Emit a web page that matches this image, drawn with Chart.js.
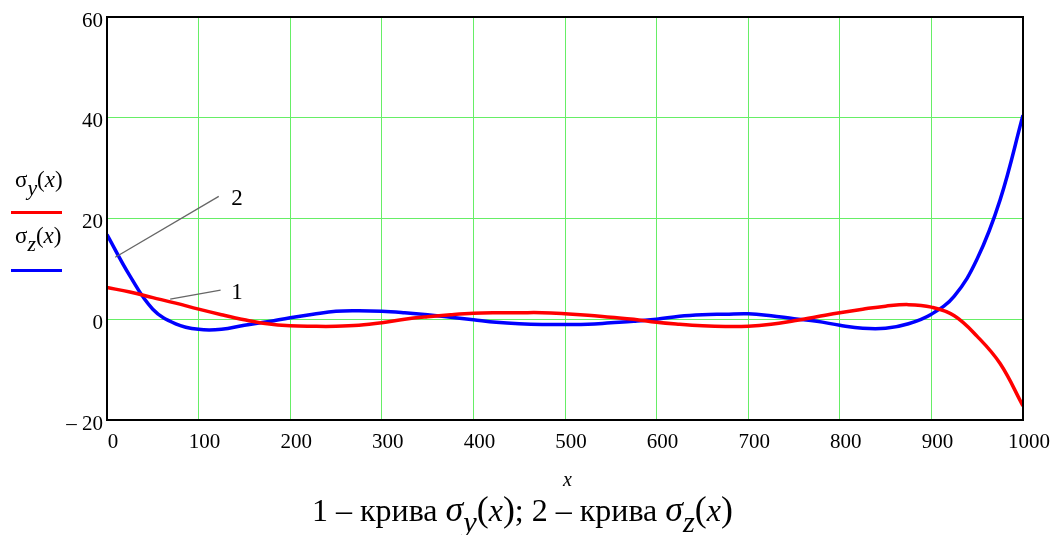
<!DOCTYPE html>
<html>
<head>
<meta charset="utf-8">
<script src="https://cdn.jsdelivr.net/npm/chart.js@4/dist/chart.umd.min.js"></script>
<style>
    html, body { margin: 0; padding: 0; background: #fff; }
    #wrap { position: relative; width: 1055px; height: 535px; font-family: "Liberation Serif", "DejaVu Serif", serif; color: #000; }
    #sigmaChart { position: absolute; left: 0; top: 0; }
    .lbl { position: absolute; white-space: nowrap; }
    .it { font-style: italic; }
    .sub { font-style: italic; position: relative; top: 0.35em; font-size: 0.95em; }
    .key { position: absolute; height: 3px; }
    .big { font-size: 1.12em; }
</style>
</head>
<body>
<div id="wrap">
    <canvas id="sigmaChart" width="1055" height="535"></canvas>
    <div class="lbl" style="left:15px; top:167px; font-size:23px;">σ<span class="sub">y</span>(<span class="it">x</span>)</div>
    <div class="key" style="left:11px; top:211px; width:51px; background:#ff0000;"></div>
    <div class="lbl" style="left:15px; top:223px; font-size:23px;">σ<span class="sub">z</span>(<span class="it">x</span>)</div>
    <div class="key" style="left:11px; top:269px; width:51px; background:#0000ff;"></div>
    <div class="lbl it" style="left:563px; top:468px; font-size:20px;">x</div>
    <div class="lbl" style="left:312px; top:488px; font-size:32px;">1 – крива <span class="it big">σ</span><span class="sub">y</span><span class="big">(</span><span class="it">x</span><span class="big">)</span>; 2 – крива <span class="it big">σ</span><span class="sub">z</span><span class="big">(</span><span class="it">x</span><span class="big">)</span></div>
</div>
<script>
// x positions along the beam
const xValues = [0, 25, 50, 75, 100, 125, 150, 175, 200, 225, 250, 275, 300, 325, 350, 375, 400, 425, 450, 475,
    500, 525, 550, 575, 600, 625, 650, 675, 700, 725, 750, 775, 800, 825, 850, 875, 900, 925, 950, 975, 1000];

// curve 1: sigma_y(x)
const sigmaY = [6.3, 5.4, 4.3, 3.2, 2.0, 0.9, -0.1, -0.9, -1.3, -1.4, -1.4, -1.2, -0.7, 0.0, 0.5, 0.9, 1.2, 1.3, 1.3, 1.3,
    1.1, 0.8, 0.4, 0.0, -0.6, -1.0, -1.3, -1.45, -1.4, -1.0, -0.3, 0.5, 1.3, 2.0, 2.6, 2.9, 2.4, 0.7, -3.4, -8.8, -17.2];

// curve 2: sigma_z(x)
const sigmaZ = [16.8, 8.6, 2.0, -0.9, -2.0, -2.0, -1.2, -0.5, 0.3, 1.0, 1.6, 1.7, 1.6, 1.3, 0.9, 0.4, -0.1, -0.6, -0.9, -1.05,
    -1.05, -1.0, -0.7, -0.4, 0.0, 0.6, 0.9, 1.0, 1.1, 0.7, 0.1, -0.4, -1.2, -1.8, -1.8, -0.9, 1.0, 4.6, 12.0, 23.7, 40.5];

const xTicks = [0, 100, 200, 300, 400, 500, 600, 700, 800, 900, 1000];
const yTicks = [-20, 0, 20, 40, 60];

// leader lines with curve numbers
const leaders = [
    { label: '2', from: [9, 12.3], to: [122, 24.4], at: [142, 23.8] },
    { label: '1', from: [69, 4.0], to: [124, 5.8], at: [142, 5.3] }
];

const toPoints = ys => xValues.map((x, i) => ({ x: x, y: ys[i] }));

const framePlugin = {
    id: 'frame',
    afterDatasetsDraw(chart) {
        const c = chart.ctx;
        const a = chart.chartArea;
        const sx = chart.scales.x, sy = chart.scales.y;
        c.save();
        c.strokeStyle = '#000';
        c.lineWidth = 2;
        c.strokeRect(a.left, a.top, a.right - a.left, a.bottom - a.top);
        leaders.forEach(l => {
            c.strokeStyle = '#666';
            c.lineWidth = 1.3;
            c.beginPath();
            c.moveTo(sx.getPixelForValue(l.from[0]), sy.getPixelForValue(l.from[1]));
            c.lineTo(sx.getPixelForValue(l.to[0]), sy.getPixelForValue(l.to[1]));
            c.stroke();
            c.fillStyle = '#000';
            c.font = '23px "Liberation Serif", serif';
            c.textAlign = 'center';
            c.textBaseline = 'middle';
            c.fillText(l.label, sx.getPixelForValue(l.at[0]), sy.getPixelForValue(l.at[1]));
        });
        c.restore();
    }
};

const tickFont = { family: '"Liberation Serif", serif', size: 21 };

new Chart(document.getElementById('sigmaChart').getContext('2d'), {
    type: 'line',
    data: {
        datasets: [
            {
                label: 'σy(x)',
                data: toPoints(sigmaY),
                borderColor: '#ff0000',
                borderWidth: 3.5,
                pointRadius: 0,
                tension: 0.4
            },
            {
                label: 'σz(x)',
                data: toPoints(sigmaZ),
                borderColor: '#0000ff',
                borderWidth: 3.5,
                pointRadius: 0,
                tension: 0.4
            }
        ]
    },
    options: {
        responsive: false,
        animation: false,
        layout: { padding: { top: 17, right: 32, left: 0, bottom: 0 } },
        plugins: {
            legend: { display: false },
            tooltip: { enabled: false }
        },
        scales: {
            x: {
                type: 'linear',
                min: 0,
                max: 1000,
                afterBuildTicks: s => { s.ticks = xTicks.map(v => ({ value: v })); },
                afterFit: s => { s.height = 115; },
                grid: { color: '#66ee66', lineWidth: 1, drawTicks: false },
                border: { display: false },
                ticks: {
                    color: '#000',
                    font: tickFont,
                    padding: 10,
                    labelOffset: 6,
                    maxRotation: 0,
                    callback: v => String(v)
                }
            },
            y: {
                min: -20,
                max: 60,
                afterBuildTicks: s => { s.ticks = yTicks.map(v => ({ value: v })); },
                afterFit: s => { s.width = 107; },
                grid: { color: '#66ee66', lineWidth: 1, drawTicks: false },
                border: { display: false },
                ticks: {
                    color: '#000',
                    font: tickFont,
                    padding: 4,
                    labelOffset: 4,
                    callback: v => v < 0 ? '– ' + Math.abs(v) : String(v)
                }
            }
        }
    },
    plugins: [framePlugin]
});
</script>
</body>
</html>
